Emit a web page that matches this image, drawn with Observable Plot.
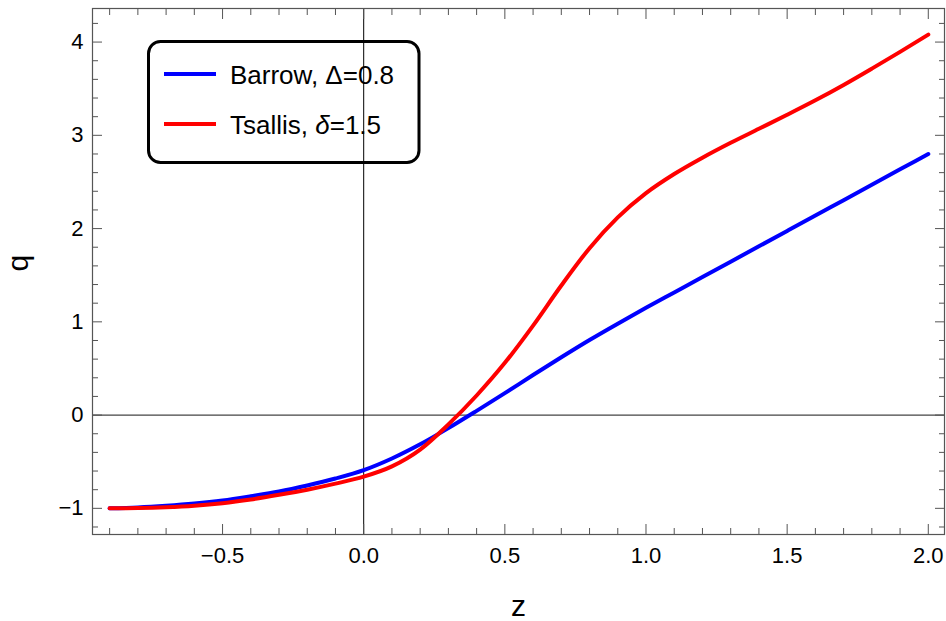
<!DOCTYPE html>
<html>
<head>
<meta charset="utf-8">
<script src="https://cdn.jsdelivr.net/npm/d3@7"></script>
<script src="https://cdn.jsdelivr.net/npm/@observablehq/plot@0.6"></script>
<style>
  html, body { margin: 0; padding: 0; background: #fff; }
  #chart svg { display: block; }
</style>
</head>
<body>
<div id="chart"></div>
<script>
// Redshift grid and deceleration parameter q(z) for the two entropy models
const zValues = [-0.9, -0.8, -0.7, -0.6, -0.5, -0.4, -0.3, -0.2, -0.1, 0.0,
                 0.1, 0.2, 0.3, 0.4, 0.5, 0.6, 0.7, 0.8, 0.9, 1.0,
                 1.1, 1.2, 1.3, 1.4, 1.5, 1.6, 1.7, 1.8, 1.9, 2.0];
const qBarrow = [-1.0, -0.99, -0.972, -0.948, -0.915, -0.87, -0.82, -0.755, -0.68, -0.59,
                 -0.465, -0.313, -0.14, 0.045, 0.235, 0.43, 0.62, 0.805, 0.98, 1.15,
                 1.315, 1.48, 1.645, 1.81, 1.975, 2.14, 2.305, 2.47, 2.635, 2.80];
const qTsallis = [-1.0, -0.997, -0.988, -0.972, -0.945, -0.905, -0.855, -0.80, -0.735, -0.66,
                  -0.55, -0.37, -0.10, 0.21, 0.56, 0.96, 1.39, 1.79, 2.12, 2.38,
                  2.585, 2.76, 2.92, 3.07, 3.22, 3.375, 3.54, 3.715, 3.895, 4.08];

const seriesNames = ["Barrow", "Tsallis"];
const seriesColors = ["#0000ff", "#ff0000"];

const xMajor = [-0.5, 0.0, 0.5, 1.0, 1.5, 2.0];
const xMinor = [-0.9, -0.8, -0.7, -0.6, -0.4, -0.3, -0.2, -0.1, 0.1, 0.2, 0.3, 0.4,
                0.6, 0.7, 0.8, 0.9, 1.1, 1.2, 1.3, 1.4, 1.6, 1.7, 1.8, 1.9];
const yMajor = [-1, 0, 1, 2, 3, 4];
const yMinor = [-1.2, -0.8, -0.6, -0.4, -0.2, 0.2, 0.4, 0.6, 0.8, 1.2, 1.4, 1.6, 1.8,
                2.2, 2.4, 2.6, 2.8, 3.2, 3.4, 3.6, 3.8, 4.2];

const rows = [];
zValues.forEach((z, i) => {
  rows.push({series: "Barrow", z, q: qBarrow[i]});
  rows.push({series: "Tsallis", z, q: qTsallis[i]});
});

const tickColor = "#555";
const fontFamily = "Liberation Sans, Arial, sans-serif";

// Legend drawn inside the frame (transparent box, rounded corners)
function legend() {
  const g = d3.create("svg:g");
  g.append("rect")
    .attr("x", 148.5).attr("y", 41.5).attr("width", 270.5).attr("height", 121)
    .attr("rx", 12).attr("ry", 12)
    .attr("fill", "none").attr("stroke", "#000").attr("stroke-width", 3);
  const entries = [
    {color: seriesColors[0], y: 74, parts: [["Barrow, Δ=0.8", false]]},
    {color: seriesColors[1], y: 124, parts: [["Tsallis, ", false], ["δ", true], ["=1.5", false]]}
  ];
  for (const e of entries) {
    g.append("line")
      .attr("x1", 164).attr("x2", 216).attr("y1", e.y).attr("y2", e.y)
      .attr("stroke", e.color).attr("stroke-width", 4);
    const t = g.append("text")
      .attr("x", 230).attr("y", e.y + 10)
      .attr("text-anchor", "start")
      .attr("font-family", fontFamily).attr("font-size", 26).attr("fill", "#000");
    for (const [s, it] of e.parts) {
      t.append("tspan").attr("font-style", it ? "italic" : "normal").text(s);
    }
  }
  return g.node();
}

const tickOpts = (anchor, size) => ({anchor, tickSize: size, text: null, label: null, stroke: tickColor});

const chart = Plot.plot({
  width: 946,
  height: 621,
  marginLeft: 92,
  marginRight: 2,
  marginTop: 8,
  marginBottom: 87,
  style: {fontFamily, background: "#fff"},
  x: {domain: [-0.9607, 2.0574]},
  y: {domain: [-1.2805, 4.36]},
  color: {domain: seriesNames, range: seriesColors},
  marks: [
    legend,
    Plot.ruleY([0], {stroke: "#444", strokeWidth: 1.4}),
    Plot.ruleX([0], {stroke: "#000", strokeWidth: 1}),
    Plot.line(rows, {x: "z", y: "q", z: "series", stroke: "series", strokeWidth: 4, curve: "monotone-x"}),
    Plot.frame({stroke: tickColor, strokeWidth: 1.2}),
    // inward ticks on all four sides
    Plot.axisX(xMajor, tickOpts("bottom", -10)),
    Plot.axisX(xMinor, tickOpts("bottom", -6)),
    Plot.axisX(xMajor, tickOpts("top", -10)),
    Plot.axisX(xMinor, tickOpts("top", -6)),
    Plot.axisY(yMajor, tickOpts("left", -10)),
    Plot.axisY(yMinor, tickOpts("left", -6)),
    Plot.axisY(yMajor, tickOpts("right", -10)),
    Plot.axisY(yMinor, tickOpts("right", -6)),
    // tick labels
    Plot.axisX(xMajor, {anchor: "bottom", tickSize: 0, tickPadding: 13, tickFormat: d3.format(".1f"),
                        fontSize: 22, fill: "#000", label: null}),
    Plot.axisY(yMajor, {anchor: "left", tickSize: 0, tickPadding: 9, tickFormat: d3.format("d"),
                        fontSize: 22, fill: "#000", label: null}),
    // axis titles
    Plot.text(["z"], {frameAnchor: "bottom", dy: 72, fontSize: 30, fill: "#000", lineAnchor: "middle"}),
    Plot.text(["q"], {frameAnchor: "left", dx: -74, rotate: -90, fontSize: 30, fill: "#000", lineAnchor: "middle"})
  ]
});

document.getElementById("chart").appendChild(chart);
</script>
</body>
</html>
